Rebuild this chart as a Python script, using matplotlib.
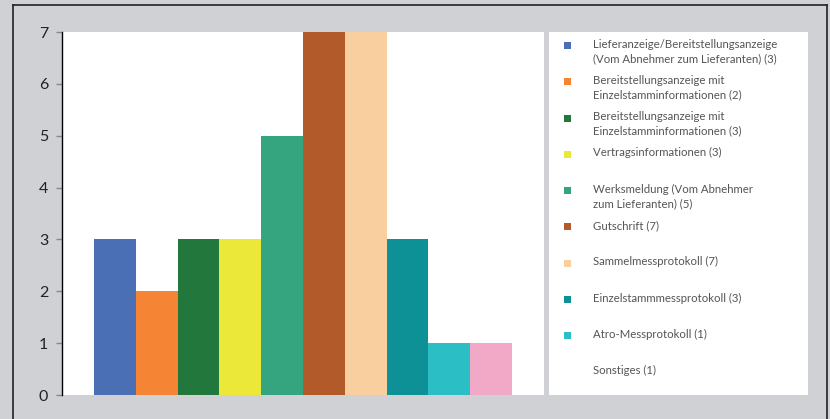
import matplotlib.pyplot as plt
from matplotlib.lines import Line2D
from matplotlib.patches import Rectangle

# Anzahl der Nennungen je Nachrichtentyp
labels = [
    "Lieferanzeige/Bereitstellungsanzeige\n(Vom Abnehmer zum Lieferanten) (3)",
    "Bereitstellungsanzeige mit\nEinzelstamminformationen (2)",
    "Bereitstellungsanzeige mit\nEinzelstamminformationen (3)",
    "Vertragsinformationen (3)",
    "Werksmeldung (Vom Abnehmer\nzum Lieferanten) (5)",
    "Gutschrift (7)",
    "Sammelmessprotokoll (7)",
    "Einzelstammmessprotokoll (3)",
    "Atro-Messprotokoll (1)",
    "Sonstiges (1)",
]
values = [3, 2, 3, 3, 5, 7, 7, 3, 1, 1]
colors = ["#4a6fb5", "#f58435", "#22773d", "#ece83a", "#35a57f",
          "#b35a2a", "#f9cfa0", "#0e9196", "#2bbfc5", "#f2a9c8"]
yticks = [0, 1, 2, 3, 4, 5, 6, 7]

W, H = 830, 419
fig = plt.figure(figsize=(W / 100, H / 100), dpi=100)
fig.patch.set_facecolor("#d0d1d5")

def px_axes(x0, y0, x1, y1):
    return fig.add_axes([x0 / W, 1 - y1 / H, (x1 - x0) / W, (y1 - y0) / H])

# Rahmen oben, links, rechts
for xs, ys in [([12.5, 827], [5, 5]), ([12.5, 12.5], [5, H]), ([827, 827], [5, H])]:
    fig.add_artist(Line2D([x / W for x in xs], [1 - y / H for y in ys],
                          color="#222222", lw=1.2, transform=fig.transFigure))

ax = px_axes(62, 32, 544, 395)
ax.set_facecolor("white")
x = list(range(len(values)))
ax.bar(x, values, width=1.0, color=colors, linewidth=0)
ax.set_xlim(-1.266, len(values) - 1 + 1.266)
ax.set_ylim(0, 7)
ax.set_yticks(yticks)
ax.set_xticks([])
for s in ["top", "right", "bottom"]:
    ax.spines[s].set_visible(False)
ax.spines["left"].set_color("black")
ax.spines["left"].set_linewidth(1.0)
ax.tick_params(axis="y", length=4, width=1, color="#888888", pad=6,
               labelsize=11.5, labelcolor="#222222")
for t in ax.get_yticklabels():
    t.set_family(["Lato", "DejaVu Sans"])

# Legende als eigene Fläche
lg = px_axes(549, 32, 808, 395)
lg.set_facecolor("white")
lg.set_xlim(0, 259)
lg.set_ylim(363, 0)
lg.set_xticks([])
lg.set_yticks([])
for s in lg.spines.values():
    s.set_visible(False)

for i, (lab, c) in enumerate(zip(labels, colors)):
    yc = 13.5 + i * 36.3
    if i < len(labels) - 1:
        lg.add_patch(Rectangle((14.5, yc - 3.5), 7, 7, color=c, lw=0))
    lg.text(44, yc - 7, lab, va="top", ha="left", fontsize=8.2,
            color="#555555", linespacing=1.4,
            family=["Lato", "DejaVu Sans"], fontweight="normal")

fig.savefig("out.png", dpi=100, facecolor=fig.get_facecolor())
